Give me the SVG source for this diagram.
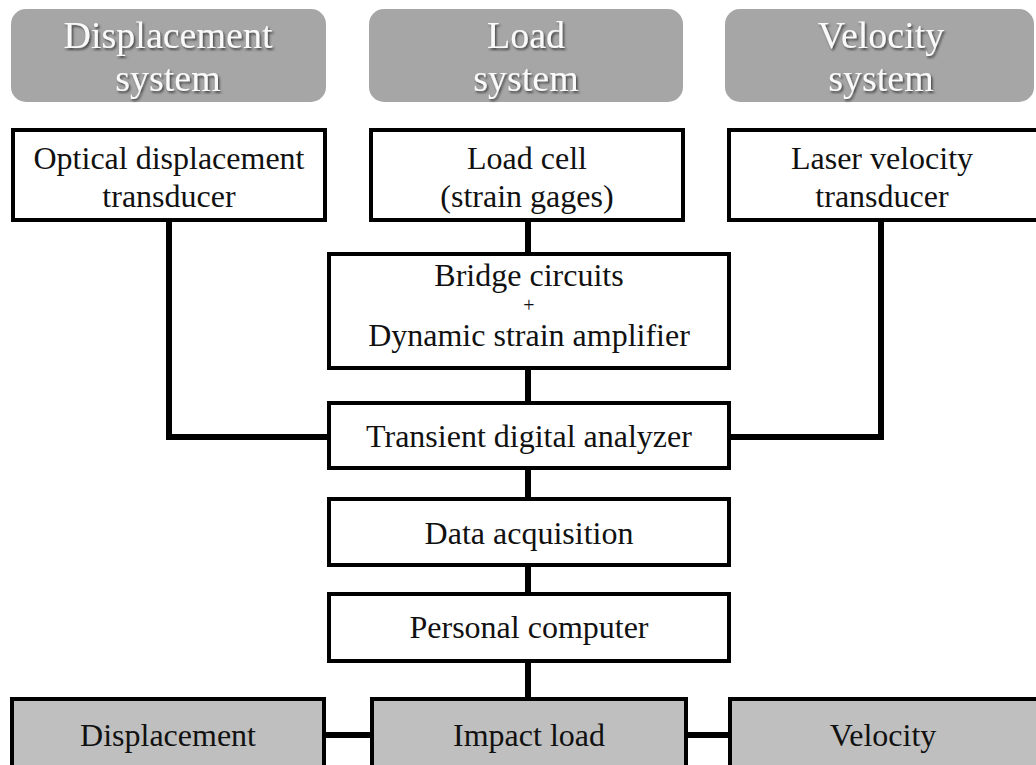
<svg xmlns="http://www.w3.org/2000/svg" width="1036" height="765" viewBox="0 0 1036 765">
<defs>
<filter id="sh" x="-10%" y="-20%" width="130%" height="150%">
<feDropShadow dx="1.5" dy="2" stdDeviation="1" flood-color="#3a3a3a" flood-opacity="0.9"/>
</filter>
</defs>
<style>
.sys{fill:#a6a6a6;stroke:none}
.box{fill:#ffffff;stroke:#000;stroke-width:4}
.res{fill:#bfbfbf;stroke:#000;stroke-width:4}
.t{font-family:"Liberation Serif","Times New Roman",serif;font-size:32px;fill:#111;text-anchor:middle}
.ts{font-family:"Liberation Serif","Times New Roman",serif;font-size:38px;fill:#fafafa;text-anchor:middle;filter:url(#sh)}
.plus{font-family:"Liberation Serif","Times New Roman",serif;font-size:20px;fill:#111;text-anchor:middle}
.c{fill:none;stroke:#000;stroke-width:6;stroke-linejoin:miter}
</style>
<rect width="1036" height="765" fill="#ffffff"/>
<g id="connectors">
<path class="c" d="M169,222 V437 H329"/>
<path class="c" d="M881,222 V437 H729"/>
<path class="c" d="M528,222 V254"/>
<path class="c" d="M528,368 V403"/>
<path class="c" d="M528,468 V499"/>
<path class="c" d="M528,565 V594"/>
<path class="c" d="M528,661 V699"/>
<path class="c" d="M324,735 H372"/>
<path class="c" d="M686,735 H730"/>
</g>
<g id="displacement-system">
<rect class="sys" x="11" y="9" width="315" height="93" rx="15"/>
<text class="ts" x="168" y="48">Displacement</text>
<text class="ts" x="168" y="91">system</text>
</g>
<g id="load-system">
<rect class="sys" x="369" y="9" width="314" height="93" rx="15"/>
<text class="ts" x="526" y="48">Load</text>
<text class="ts" x="526" y="91">system</text>
</g>
<g id="velocity-system">
<rect class="sys" x="725" y="9" width="309" height="93" rx="15"/>
<text class="ts" x="881" y="48">Velocity</text>
<text class="ts" x="881" y="91">system</text>
</g>
<g id="optical-transducer">
<rect class="box" x="13" y="130" width="312" height="90"/>
<text class="t" x="169" y="169">Optical displacement</text>
<text class="t" x="169" y="207">transducer</text>
</g>
<g id="load-cell">
<rect class="box" x="371" y="130" width="312" height="90"/>
<text class="t" x="527" y="169">Load cell</text>
<text class="t" x="527" y="207">(strain gages)</text>
</g>
<g id="laser-transducer">
<rect class="box" x="729" y="130" width="312" height="90"/>
<text class="t" x="882" y="169">Laser velocity</text>
<text class="t" x="882" y="207">transducer</text>
</g>
<g id="bridge">
<rect class="box" x="329" y="254" width="400" height="114"/>
<text class="t" x="529" y="286">Bridge circuits</text>
<text class="plus" x="529" y="312">+</text>
<text class="t" x="529" y="346">Dynamic strain amplifier</text>
</g>
<g id="transient">
<rect class="box" x="329" y="403" width="400" height="65"/>
<text class="t" x="529" y="447">Transient digital analyzer</text>
</g>
<g id="data-acquisition">
<rect class="box" x="329" y="499" width="400" height="66"/>
<text class="t" x="529" y="544">Data acquisition</text>
</g>
<g id="personal-computer">
<rect class="box" x="329" y="594" width="400" height="67"/>
<text class="t" x="529" y="638">Personal computer</text>
</g>
<g id="displacement">
<rect class="res" x="12" y="699" width="312" height="90"/>
<text class="t" x="168" y="746">Displacement</text>
</g>
<g id="impact-load">
<rect class="res" x="372" y="699" width="314" height="90"/>
<text class="t" x="529" y="746">Impact load</text>
</g>
<g id="velocity">
<rect class="res" x="730" y="699" width="320" height="90"/>
<text class="t" x="883" y="746">Velocity</text>
</g>
</svg>
